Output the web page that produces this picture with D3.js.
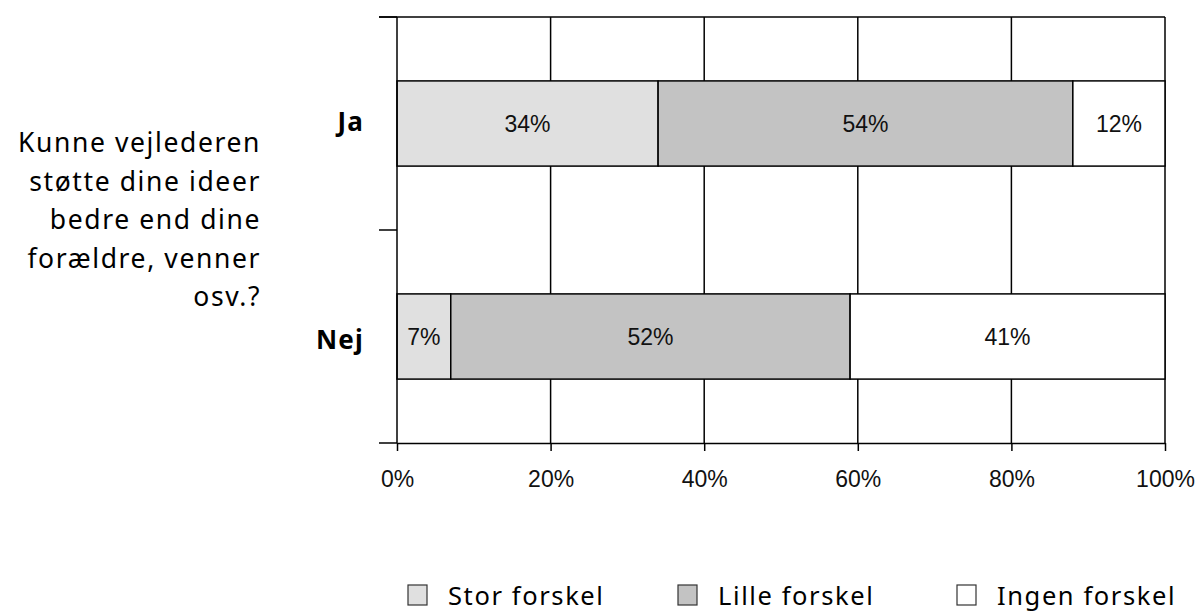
<!DOCTYPE html>
<html>
<head>
<meta charset="utf-8">
<script src="https://cdn.jsdelivr.net/npm/d3@7"></script>
<style>
  body { margin: 0; background: #fff; }
  svg { display: block; }
</style>
</head>
<body>
<svg id="chart"></svg>
<script>
/* data */
const categories = ['Ja', 'Nej'];
const seriesNames = ['Stor forskel', 'Lille forskel', 'Ingen forskel'];
const storForskel = [34, 7];
const lilleForskel = [54, 52];
const ingenForskel = [12, 41];
const tickValues = [0, 20, 40, 60, 80, 100];
const questionLines = ['Kunne vejlederen', 'støtte dine ideer', 'bedre end dine', 'forældre, venner', 'osv.?'];

const colors = ['#e0e0e0', '#c3c3c3', '#ffffff'];

let width = 1198;
let height = 614;
let plot = { left: 397, right: 1165, top: 17, bottom: 443 };

let svg = d3.select('#chart').attr('width', width).attr('height', height);

let x = d3.scaleLinear().domain([0, 100]).range([plot.left, plot.right]);
let y = d3.scaleBand().domain(categories).range([plot.top, plot.bottom]).paddingInner(0).paddingOuter(0);
let barH = y.bandwidth() * 0.4;

/* stack rows */
let rows = categories.map((c, i) => ({
    cat: c,
    'Stor forskel': storForskel[i],
    'Lille forskel': lilleForskel[i],
    'Ingen forskel': ingenForskel[i]
}));
let stacked = d3.stack().keys(seriesNames)(rows);

/* vertical gridlines */
svg.append('g').selectAll('line')
    .data(tickValues.slice(1))
    .join('line')
    .attr('x1', d => x(d)).attr('x2', d => x(d))
    .attr('y1', plot.top).attr('y2', plot.bottom)
    .attr('stroke', '#000').attr('stroke-width', 1.5);

/* top border */
svg.append('line')
    .attr('x1', plot.left - 18).attr('x2', plot.right)
    .attr('y1', plot.top).attr('y2', plot.top)
    .attr('stroke', '#000').attr('stroke-width', 1.5);

/* bars */
svg.append('g').selectAll('g')
    .data(stacked)
    .join('g')
    .attr('fill', (d, i) => colors[i])
    .selectAll('rect')
    .data(d => d)
    .join('rect')
    .attr('x', d => x(d[0]))
    .attr('width', d => x(d[1]) - x(d[0]))
    .attr('y', d => y(d.data.cat) + (y.bandwidth() - barH) / 2)
    .attr('height', barH)
    .attr('stroke', '#000').attr('stroke-width', 1.5);

/* value labels */
svg.append('g').selectAll('g')
    .data(stacked)
    .join('g')
    .selectAll('text')
    .data(d => d)
    .join('text')
    .attr('x', d => (x(d[0]) + x(d[1])) / 2)
    .attr('y', d => y(d.data.cat) + y.bandwidth() / 2 + 8)
    .attr('text-anchor', 'middle')
    .attr('font-family', 'Liberation Sans, Arial, sans-serif')
    .attr('font-size', 23)
    .attr('fill', '#111')
    .text(d => (d[1] - d[0]) + '%');

/* x axis */
let xAxis = d3.axisBottom(x).tickValues(tickValues).tickFormat(d => d + '%').tickSize(8).tickSizeOuter(0);
let gx = svg.append('g')
    .attr('transform', `translate(0, ${plot.bottom})`)
    .call(xAxis);
gx.select('.domain').attr('stroke', '#000').attr('stroke-width', 1.5);
gx.selectAll('.tick line').attr('stroke', '#000').attr('stroke-width', 1.5);
gx.selectAll('.tick text')
    .attr('dy', 0)
    .attr('y', 44)
    .attr('font-family', 'Liberation Sans, Arial, sans-serif')
    .attr('font-size', 23)
    .attr('fill', '#111');

/* y axis */
let yTicks = [plot.top, y('Nej'), plot.bottom];
svg.append('line')
    .attr('x1', plot.left).attr('x2', plot.left)
    .attr('y1', plot.top).attr('y2', plot.bottom)
    .attr('stroke', '#000').attr('stroke-width', 1.5);
svg.append('g').selectAll('line')
    .data(yTicks)
    .join('line')
    .attr('x1', plot.left - 18).attr('x2', plot.left)
    .attr('y1', d => d).attr('y2', d => d)
    .attr('stroke', '#000').attr('stroke-width', 1.5);

/* category labels */
svg.append('g').selectAll('text')
    .data(categories)
    .join('text')
    .attr('x', 364)
    .attr('y', d => y(d) + y.bandwidth() / 2 + (d === 'Ja' ? 7 : 12))
    .attr('text-anchor', 'end')
    .attr('font-family', 'Noto Sans, Open Sans, sans-serif')
    .attr('font-weight', 'bold')
    .attr('font-size', 26)
    .attr('letter-spacing', 1.2)
    .attr('fill', '#000')
    .text(d => d);

/* question text */
svg.append('text')
    .attr('text-anchor', 'end')
    .attr('font-family', 'Noto Sans, Open Sans, sans-serif')
    .attr('font-size', 26.5)
    .attr('letter-spacing', 1.6)
    .attr('fill', '#000')
    .selectAll('tspan')
    .data(questionLines)
    .join('tspan')
    .attr('x', 261)
    .attr('y', (d, i) => 152 + i * 38.5)
    .text(d => d);

/* legend */
let legendX = [408, 678, 957];
let lg = svg.append('g').selectAll('g')
    .data(seriesNames)
    .join('g')
    .attr('transform', (d, i) => `translate(${legendX[i]}, 585)`);
lg.append('rect')
    .attr('width', 19).attr('height', 20)
    .attr('fill', (d, i) => colors[i])
    .attr('stroke', '#333').attr('stroke-width', 1.2);
lg.append('text')
    .attr('x', 40).attr('y', 20)
    .attr('font-family', 'Noto Sans, Open Sans, sans-serif')
    .attr('font-size', 25.5)
    .attr('letter-spacing', 1.6)
    .attr('fill', '#000')
    .text(d => d);
</script>
</body>
</html>
